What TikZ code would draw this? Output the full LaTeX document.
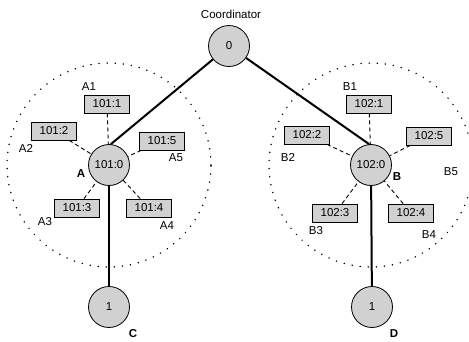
\documentclass[tikz,border=0pt]{standalone}
\usepackage{fontspec}
\setmainfont{Liberation Sans}
\definecolor{shade}{gray}{0.82}
\begin{document}
\begin{tikzpicture}[x=1pt,y=-1pt,
 every node/.style={font=\fontsize{11.5}{13}\selectfont},
 hub/.style={circle,draw,fill=shade,minimum size=41pt,inner sep=0pt,line width=0.8pt},
 dev/.style={draw,fill=shade,minimum width=45pt,minimum height=18pt,inner sep=0pt,line width=0.8pt},
 link/.style={line width=2pt},
 wlink/.style={line width=0.9pt,dash pattern=on 4pt off 3pt},
 zone/.style={line width=1.6pt,dash pattern=on 0.1pt off 8pt,line cap=round},
 lbl/.style={inner sep=0pt},
 boldlbl/.style={inner sep=0pt,font=\fontsize{11.5}{13}\selectfont\bfseries}]
\useasboundingbox (0,0) rectangle (469,341);
\clip (0,0) rectangle (469,341);
\fill[white] (0,0) rectangle (469,341);
% zones
\draw[zone] (109,165) circle (102pt);
\draw[zone] (371,165) circle (102pt);
% hubs
\node[hub] (co) at (229,46) {0};
\node[lbl] (cotxt) at (231,14) {Coordinator};
\node[hub] (a) at (109,165) {101:0};
\node[hub] (b) at (371,165) {102:0};
\node[hub] (c) at (109,307) {1};
\node[hub] (d) at (372,307) {1};
% devices A
\node[dev] (a1) at (107,104) {101:1};
\node[dev] (a2) at (54,131) {101:2};
\node[dev] (a5) at (162,141) {101:5};
\node[dev] (a3) at (77,208) {101:3};
\node[dev] (a4) at (149,208) {101:4};
% devices B
\node[dev] (b1) at (369,104) {102:1};
\node[dev] (b2) at (307,135) {102:2};
\node[dev] (b5) at (429,136) {102:5};
\node[dev] (b3) at (335,213) {102:3};
\node[dev] (b4) at (411,213) {102:4};
% links
\draw[link] (co) -- (a.85);
\draw[link] (co) -- (b.95);
\draw[link] (a) -- (c);
\draw[link] (b) -- (d);
\foreach \n in {a1,a2,a3,a4,a5} \draw[wlink] (\n) -- (a);
\foreach \n in {b1,b2,b3,b4,b5} \draw[wlink] (\n) -- (b);
% labels
\node[lbl] (la1) at (89,87) {A1};
\node[lbl] (la2) at (26,148) {A2};
\node[lbl] (la5) at (176,158) {A5};
\node[lbl] (la3) at (45,222) {A3};
\node[lbl] (la4) at (167,226) {A4};
\node[boldlbl] (la) at (81,174) {A};
\node[lbl] (lb1) at (350,87) {B1};
\node[lbl] (lb2) at (288,157) {B2};
\node[lbl] (lb5) at (451,172) {B5};
\node[lbl] (lb3) at (316,231) {B3};
\node[lbl] (lb4) at (429,235) {B4};
\node[boldlbl] (lb) at (397,177) {B};
\node[boldlbl] (lc) at (133,334) {C};
\node[boldlbl] (ld) at (394,334) {D};
\end{tikzpicture}
\end{document}
